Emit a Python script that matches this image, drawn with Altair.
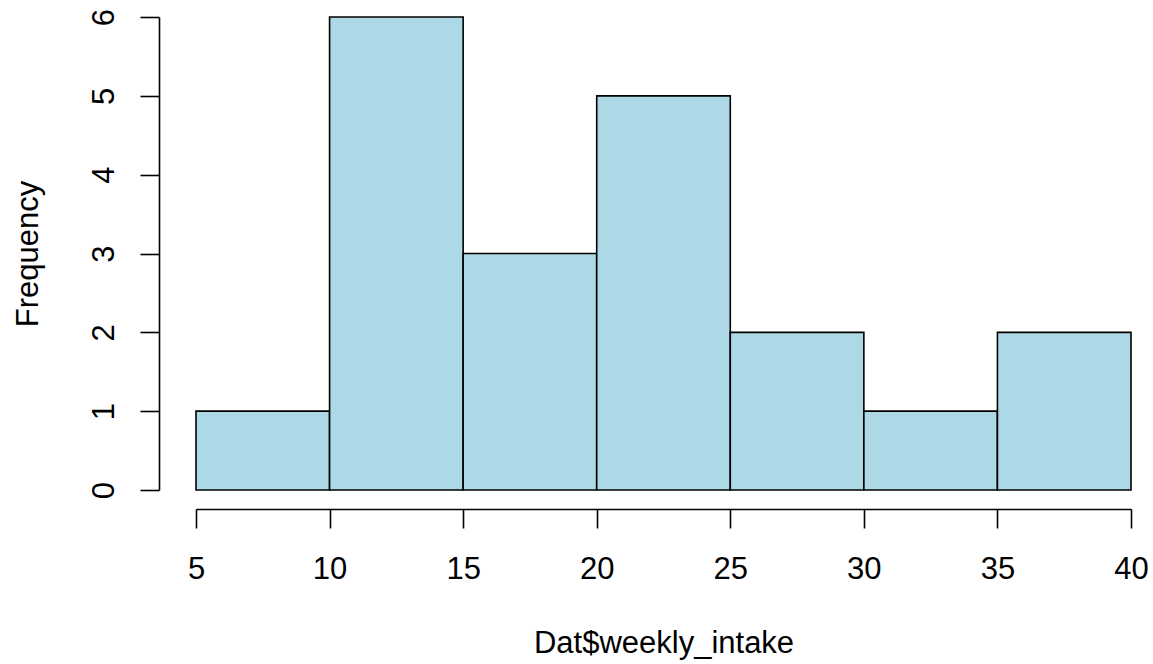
import altair as alt
import pandas as pd

bin_start = [5, 10, 15, 20, 25, 30, 35]
bin_end = [10, 15, 20, 25, 30, 35, 40]
counts = [1, 6, 3, 5, 2, 1, 2]
x_ticks = [5, 10, 15, 20, 25, 30, 35, 40]
y_ticks = [0, 1, 2, 3, 4, 5, 6]

df = pd.DataFrame({"start": bin_start, "end": bin_end, "count": counts})

FONT = "Liberation Sans"
FS = 31
LW = 1.6

chart = alt.Chart(df).mark_rect(
    fill="#ADD8E6", stroke="black", strokeWidth=LW
).encode(
    x=alt.X(
        "start:Q",
        scale=alt.Scale(domain=[5, 40], nice=False, zero=False),
        axis=alt.Axis(
            values=x_ticks, title="Dat$weekly_intake", orient="bottom",
            offset=19, tickSize=19, tickWidth=LW, tickColor="black",
            domainColor="black", domainWidth=LW, grid=False,
            labelFont=FONT, labelFontSize=FS, labelColor="black",
            labelBaseline="alphabetic", labelPadding=50, labelAlign="center",
            labelFlush=False, labelOverlap=False,
            titleFont=FONT, titleFontSize=FS, titleFontWeight="normal",
            titleColor="black", titleBaseline="alphabetic",
            titleY=143, titleX=467.5, titleAlign="center",
        ),
    ),
    x2="end:Q",
    y=alt.Y(
        "count:Q",
        scale=alt.Scale(domain=[0, 6], nice=False, zero=True),
        axis=alt.Axis(
            values=y_ticks, title="Frequency", orient="left",
            offset=37, tickSize=19, tickWidth=LW, tickColor="black",
            domainColor="black", domainWidth=LW, grid=False,
            labelFont=FONT, labelFontSize=FS, labelColor="black",
            labelAngle=270, labelBaseline="alphabetic", labelAlign="center",
            labelPadding=27, labelFlush=False, labelOverlap=False,
            titleFont=FONT, titleFontSize=FS, titleFontWeight="normal",
            titleColor="black", titleBaseline="alphabetic", titleAngle=270,
            titleX=-122, titleY=236.5, titleAlign="center",
        ),
    ),
    y2=alt.datum(0),
).properties(
    width=935,
    height=473,
    autosize=alt.AutoSizeParams(type="none"),
    padding={"left": 196, "top": 17, "right": 22, "bottom": 174},
    background="white",
).configure_view(stroke=None)

chart.save("out.html", embed_options={"renderer": "svg", "actions": False})
